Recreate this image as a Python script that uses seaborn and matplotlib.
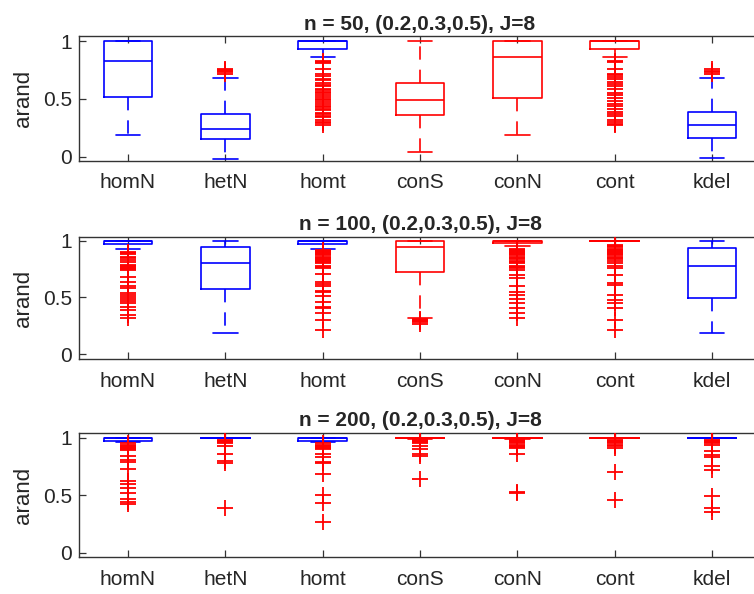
import matplotlib
matplotlib.use("Agg")
import matplotlib.pyplot as plt
import seaborn as sns

sns.set_style("white")
plt.rcParams['font.family'] = ['Liberation Sans', 'DejaVu Sans']

categories = ["homN", "hetN", "homt", "conS", "conN", "cont", "kdel"]
box_colors = ["blue", "blue", "blue", "red", "red", "red", "blue"]
titles = ["n = 50, (0.2,0.3,0.5), J=8",
          "n = 100, (0.2,0.3,0.5), J=8",
          "n = 200, (0.2,0.3,0.5), J=8"]
ytick_vals = [0, 0.5, 1]
ytick_labels = ["0", "0.5", "1"]

# ---- n = 50 ----
n50_whislo = [0.188, -0.02, 0.864, 0.04, 0.188, 0.864, -0.011]
n50_q1     = [0.515, 0.153, 0.936, 0.364, 0.511, 0.936, 0.162]
n50_med    = [0.827, 0.243, 1.0, 0.489, 0.867, 1.0, 0.272]
n50_q3     = [1.0, 0.367, 1.0, 0.636, 1.0, 1.0, 0.387]
n50_whishi = [1.0, 0.685, 1.0, 1.0, 1.0, 1.0, 0.685]
n50_fliers = [
    [],
    [0.72, 0.73, 0.74, 0.75, 0.76],
    [0.83, 0.82, 0.81, 0.76, 0.72, 0.70, 0.67, 0.66, 0.64, 0.62, 0.61, 0.59, 0.58,
     0.56, 0.55, 0.53, 0.52, 0.50, 0.49, 0.47, 0.46, 0.44, 0.43, 0.41, 0.40, 0.38,
     0.37, 0.35, 0.34, 0.32, 0.30, 0.29, 0.27],
    [],
    [],
    [0.83, 0.82, 0.76, 0.72, 0.71, 0.69, 0.67, 0.65, 0.63, 0.61, 0.59, 0.55, 0.53,
     0.51, 0.48, 0.46, 0.44, 0.41, 0.39, 0.37, 0.35, 0.32, 0.30, 0.28, 0.27],
    [0.72, 0.73, 0.745, 0.76],
]

# ---- n = 100 ----
n100_whislo = [0.924, 0.19, 0.93, 0.317, 0.956, 1.0, 0.19]
n100_q1     = [0.968, 0.575, 0.968, 0.722, 0.977, 1.0, 0.498]
n100_med    = [0.995, 0.806, 0.995, 0.942, 0.995, 1.0, 0.777]
n100_q3     = [1.0, 0.942, 1.0, 1.0, 1.0, 1.0, 0.933]
n100_whishi = [1.0, 1.0, 1.0, 1.0, 1.0, 1.0, 1.0]
n100_fliers = [
    [0.90, 0.89, 0.88, 0.86, 0.85, 0.83, 0.81, 0.79, 0.78, 0.77, 0.76, 0.75, 0.74,
     0.68, 0.64, 0.60, 0.58, 0.54, 0.52, 0.50, 0.49, 0.47, 0.45, 0.42, 0.39, 0.35, 0.32],
    [],
    [0.92, 0.91, 0.90, 0.89, 0.88, 0.87, 0.86, 0.85, 0.84, 0.83, 0.82, 0.81, 0.80,
     0.78, 0.77, 0.76, 0.71, 0.64, 0.62, 0.60, 0.56, 0.55, 0.51, 0.46, 0.42, 0.41,
     0.36, 0.30, 0.21],
    [0.31, 0.30, 0.29, 0.28, 0.27],
    [0.93, 0.92, 0.91, 0.90, 0.89, 0.88, 0.87, 0.86, 0.85, 0.84, 0.82, 0.81, 0.80,
     0.78, 0.77, 0.76, 0.74, 0.70, 0.67, 0.60, 0.55, 0.52, 0.49, 0.45, 0.41, 0.36, 0.32],
    [0.96, 0.95, 0.94, 0.93, 0.92, 0.91, 0.90, 0.89, 0.88, 0.87, 0.86, 0.85, 0.84,
     0.82, 0.80, 0.78, 0.76, 0.70, 0.63, 0.61, 0.52, 0.48, 0.45, 0.41, 0.30, 0.21],
    [],
]

# ---- n = 200 ----
n200_whislo = [0.963, 1.0, 0.963, 0.99, 0.99, 0.995, 1.0]
n200_q1     = [0.97, 0.993, 0.97, 0.995, 0.995, 0.998, 0.993]
n200_med    = [0.995, 1.0, 0.995, 1.0, 1.0, 1.0, 1.0]
n200_q3     = [1.0, 1.0, 1.0, 1.0, 1.0, 1.0, 1.0]
n200_whishi = [1.0, 1.0, 1.0, 1.0, 1.0, 1.0, 1.0]
n200_fliers = [
    [0.95, 0.94, 0.93, 0.92, 0.91, 0.90, 0.89, 0.84, 0.81, 0.79, 0.73, 0.62, 0.60,
     0.56, 0.52, 0.47, 0.44, 0.42],
    [0.98, 0.97, 0.96, 0.95, 0.93, 0.86, 0.80, 0.78, 0.39],
    [0.95, 0.94, 0.93, 0.92, 0.91, 0.90, 0.86, 0.83, 0.79, 0.78, 0.68, 0.50, 0.43, 0.27],
    [0.98, 0.97, 0.96, 0.95, 0.93, 0.90, 0.86, 0.84, 0.64],
    [0.98, 0.97, 0.96, 0.95, 0.94, 0.93, 0.92, 0.91, 0.86, 0.53, 0.52],
    [0.98, 0.97, 0.96, 0.95, 0.94, 0.93, 0.91, 0.70, 0.46],
    [0.98, 0.97, 0.96, 0.95, 0.94, 0.88, 0.85, 0.83, 0.75, 0.72, 0.49, 0.39, 0.35],
]

panels = [
    (n50_whislo, n50_q1, n50_med, n50_q3, n50_whishi, n50_fliers),
    (n100_whislo, n100_q1, n100_med, n100_q3, n100_whishi, n100_fliers),
    (n200_whislo, n200_q1, n200_med, n200_q3, n200_whishi, n200_fliers),
]

W, H = 754, 594
fig = plt.figure(figsize=(W / 100, H / 100), dpi=100)
# axes rectangles in pixels: (left, top, right, bottom)
rects = [(79.3, 36.0, 760.8, 160.7),
         (79.3, 236.7, 760.8, 359.3),
         (79.3, 432.7, 760.8, 557.3)]
ylims = [(-0.035, 1.045), (-0.044, 1.035), (-0.04, 1.043)]
axis_col = "0.2"

for p, (panel, rect) in enumerate(zip(panels, rects)):
    l, t, r, b = rect
    ax = fig.add_axes([l / W, 1 - b / H, (r - l) / W, (b - t) / H])
    wl, q1, med, q3, wh, fl = panel
    stats = []
    for i, cat in enumerate(categories):
        stats.append(dict(label=cat, whislo=wl[i], q1=q1[i], med=med[i],
                          q3=q3[i], whishi=wh[i], fliers=fl[i]))
    art = ax.bxp(stats, positions=list(range(1, len(categories) + 1)),
                 widths=0.5, capwidths=0.25, showfliers=True,
                 boxprops=dict(linewidth=1.2),
                 medianprops=dict(linewidth=1.2),
                 whiskerprops=dict(linewidth=1.2, linestyle=(0, (8, 6))),
                 capprops=dict(linewidth=1.2),
                 flierprops=dict(marker='+', markeredgecolor='red',
                                 markersize=11, markeredgewidth=1.3,
                                 linestyle='none'))
    for i, c in enumerate(box_colors):
        art['boxes'][i].set_color(c)
        art['medians'][i].set_color(c)
        for k in (2 * i, 2 * i + 1):
            art['whiskers'][k].set_color(c)
            art['caps'][k].set_color(c)
    for f in art['fliers']:
        f.set_zorder(3)

    ax.set_xlim(0.5, len(categories) + 0.5)
    ax.set_ylim(*ylims[p])
    ax.set_yticks(ytick_vals)
    ax.set_yticklabels(ytick_labels)
    ax.set_xticklabels(categories)
    ax.tick_params(axis='both', direction='in', length=5, width=0.9,
                   colors=axis_col, labelcolor='0.15', labelsize=15,
                   top=True, right=True, bottom=True, left=True)
    ax.tick_params(axis='x', pad=9)
    ax.tick_params(axis='y', pad=5)
    for s in ax.spines.values():
        s.set_color(axis_col)
        s.set_linewidth(1.0)
        s.set_visible(True)
    ax.set_ylabel("arand", fontsize=16, color='0.15')
    ax.yaxis.set_label_coords(-0.066, 0.5)
    ax.set_title(titles[p], fontsize=15, fontweight='bold', pad=4.5)

fig.savefig("out.png", dpi=100)
